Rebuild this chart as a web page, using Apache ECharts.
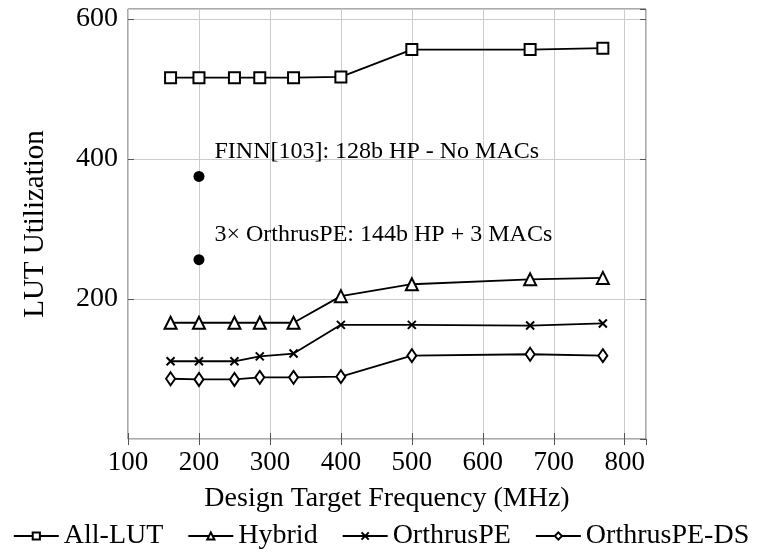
<!DOCTYPE html>
<html>
<head>
<meta charset="utf-8">
<script src="https://cdn.jsdelivr.net/npm/echarts@6/dist/echarts.min.js"></script>
<style>html,body{margin:0;padding:0;background:#fff}#c{width:762px;height:557px}</style>
</head>
<body>
<div id="c"></div>
<script>
const freqs = [160, 200, 250, 285.7, 333.3, 400, 500, 666.7, 769.2];
const allLut = [516, 516, 516, 516, 516, 517, 556, 556, 558];
const hybrid = [166, 166, 166, 166, 166, 204, 221, 228, 230];
const orthrusPE = [111, 111, 111, 118, 122, 163, 163, 162, 165];
const orthrusPEDS = [86, 85, 85, 88, 88, 89, 119, 121, 119];
const seriesNames = ['All-LUT', 'Hybrid', 'OrthrusPE', 'OrthrusPE-DS'];
const refX = [200, 200];
const refY = [375, 256];
const refText = ['FINN[103]: 128b HP - No MACs', '3\u00d7 OrthrusPE: 144b HP + 3 MACs'];

const FONT = 'Liberation Serif';
const pair = (ys) => freqs.map((x, i) => [x, ys[i]]);
const crossPath = 'path://M0,0L10,10M0,10L10,0';
const symbols = ['emptyRect', 'emptyTriangle', crossPath, 'emptyDiamond'];
const symSizes = [11, 12, 8, [9, 13]];
const values = [allLut, hybrid, orthrusPE, orthrusPEDS];

const lineSeries = seriesNames.map((name, k) => ({
  name,
  type: 'line',
  data: pair(values[k]),
  symbol: symbols[k],
  symbolSize: symSizes[k],
  showAllSymbol: true,
  lineStyle: { color: '#000', width: 1.8 },
  itemStyle: { color: '#000', borderColor: '#000', borderWidth: 2 },
  emphasis: { disabled: true },
  z: 3
}));

const refSeries = {
  type: 'scatter',
  data: refX.map((x, i) => ({ value: [x, refY[i]], name: refText[i] })),
  symbol: 'circle',
  symbolSize: 11,
  itemStyle: { color: '#000', opacity: 1 },
  label: {
    show: true,
    position: 'right',
    offset: [5, -25],
    formatter: p => p.name,
    fontFamily: FONT,
    fontSize: 24,
    color: '#000'
  },
  silent: true,
  z: 4
};

const chart = echarts.init(document.getElementById('c'), null, { renderer: 'canvas' });
chart.setOption({
  animation: false,
  backgroundColor: '#fff',
  grid: { left: 128, right: 116, top: 9, bottom: 118, show: true, borderColor: '#555', borderWidth: 1, containLabel: false },
  legend: {
    data: seriesNames,
    bottom: 2,
    left: 'center',
    itemWidth: 45,
    itemHeight: 9,
    itemGap: 24,
    textStyle: { fontFamily: FONT, fontSize: 28, color: '#000' }
  },
  xAxis: [{
    type: 'value', min: 100, max: 830, interval: 100,
    name: 'Design Target Frequency (MHz)', nameLocation: 'middle', nameGap: 46,
    nameTextStyle: { fontFamily: FONT, fontSize: 28, color: '#000' },
    axisLine: { show: false },
    axisTick: { show: true, inside: true, length: 6, lineStyle: { color: '#555' } },
    axisLabel: { fontFamily: FONT, fontSize: 27, color: '#000', margin: 10, showMaxLabel: false },
    splitLine: { show: true, lineStyle: { color: '#cccccc', width: 1 } }
  }, {
    type: 'value', min: 100, max: 830, interval: 100, position: 'top',
    axisLine: { show: false }, axisLabel: { show: false },
    axisTick: { show: true, inside: true, length: 6, lineStyle: { color: '#555' } },
    splitLine: { show: false }
  }],
  yAxis: [{
    type: 'value', min: 0, max: 614, interval: 200,
    name: 'LUT Utilization', nameLocation: 'middle', nameGap: 78,
    nameTextStyle: { fontFamily: FONT, fontSize: 29, color: '#000' },
    axisLine: { show: false },
    axisTick: { show: true, inside: true, length: 6, lineStyle: { color: '#555' } },
    axisLabel: { fontFamily: FONT, fontSize: 28, color: '#000', margin: 10, showMinLabel: false, showMaxLabel: false },
    splitLine: { show: true, lineStyle: { color: '#cccccc', width: 1 } }
  }, {
    type: 'value', min: 0, max: 614, interval: 200, position: 'right',
    axisLine: { show: false }, axisLabel: { show: false },
    axisTick: { show: true, inside: true, length: 6, lineStyle: { color: '#555' } },
    splitLine: { show: false }
  }],
  series: [...lineSeries, refSeries]
});
</script>
</body>
</html>
